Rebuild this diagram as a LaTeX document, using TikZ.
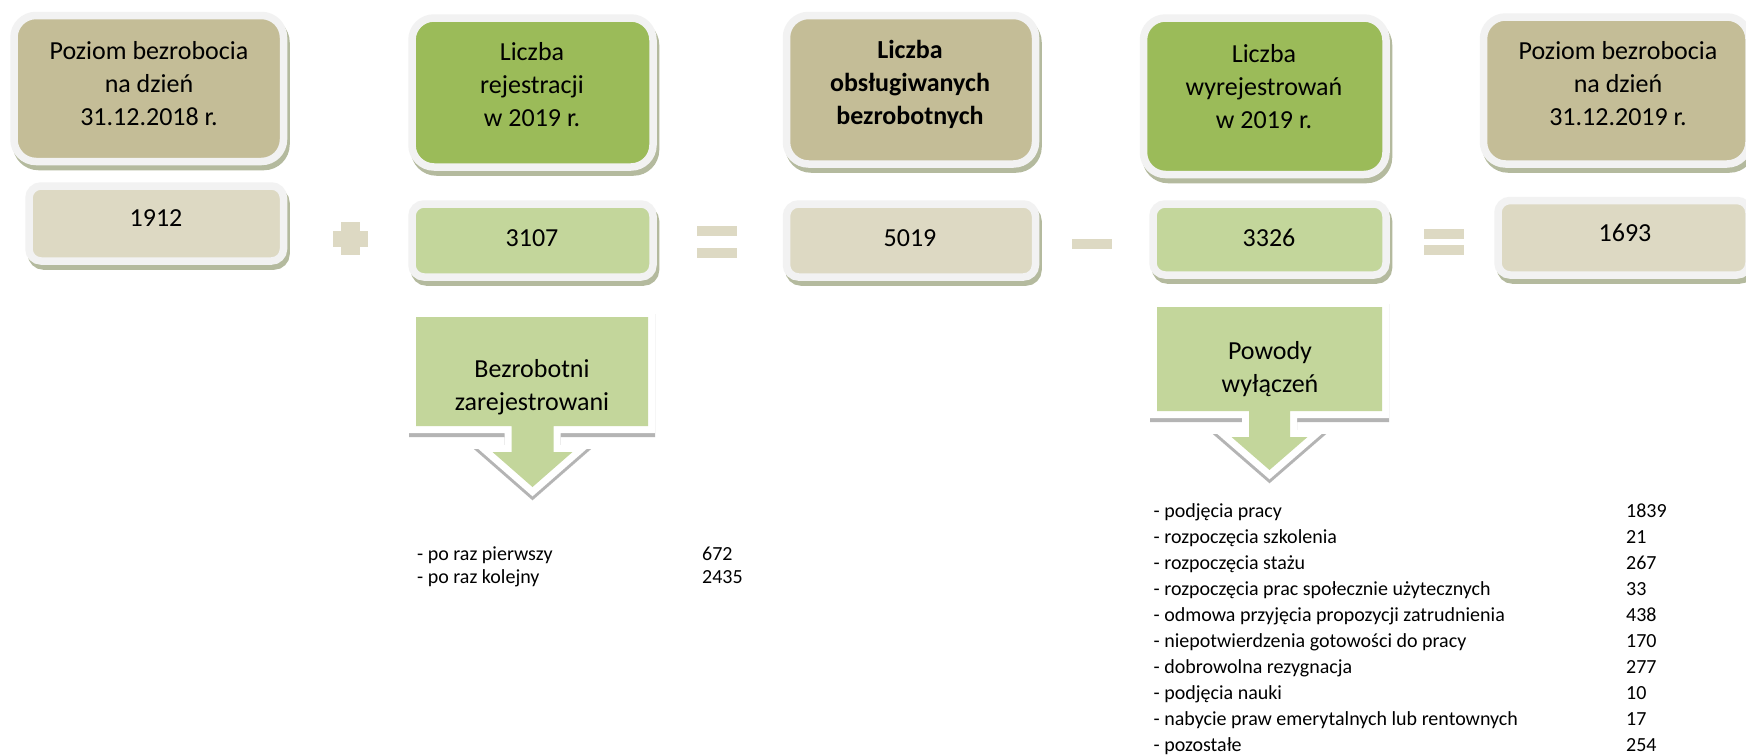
\documentclass[tikz,border=0pt]{standalone}
\usepackage{fontspec}
\setmainfont{Carlito}
\definecolor{tanD}{HTML}{C4BD97}
\definecolor{tanL}{HTML}{DDD9C3}
\definecolor{grnD}{HTML}{9BBB59}
\definecolor{grnL}{HTML}{C3D69B}
\definecolor{bordc}{HTML}{F2F2F2}
\definecolor{shadc}{HTML}{B4BA9E}
\definecolor{ashad}{HTML}{B4B4B4}
\newcommand{\boxfont}{\fontsize{26}{33}\selectfont}
\newcommand{\lstfont}{\fontsize{20}{26}\selectfont}
\tikzset{
  shadowed/.style={preaction={draw=shadc, fill=shadc, line width=7.5pt,
      transform canvas={shift={(2.5pt,-5pt)}}}},
  topbox/.style={shadowed, draw=bordc, line width=7.5pt, rounded corners=22pt,
      inner sep=0pt, minimum width=#1},
  numbox/.style={shadowed, draw=bordc, line width=7.5pt, rounded corners=12pt,
      inner sep=0pt, minimum width=#1},
  txt/.style={align=center, font=\boxfont, inner sep=0pt},
  lst/.style={font=\lstfont, inner sep=0pt, anchor=base west},
  opbar/.style={fill=tanL},
  callout/.style={preaction={draw=ashad, fill=ashad, line width=14pt, line join=miter,
      transform canvas={yshift=-4pt}},
    preaction={draw=white, line width=14pt, line join=miter}, fill=grnL},
}
\begin{document}
\begin{tikzpicture}[x=1pt,y=-1pt]
\useasboundingbox (0,0) rectangle (1746,755);
\fill[white] (0,0) rectangle (1746,755);

% top boxes
\node[topbox=269.5pt, minimum height=146pt, fill=tanD] (b1) at (148.75,88.5) {};
\node[topbox=241pt, minimum height=149pt, fill=grnD] (b2) at (532.5,92.5) {};
\node[topbox=249pt, minimum height=148.5pt, fill=tanD] (b3) at (911,89.75) {};
\node[topbox=242.5pt, minimum height=156.5pt, fill=grnD] (b4) at (1264.75,96.25) {};
\node[topbox=265.5pt, minimum height=147pt, fill=tanD] (b5) at (1616.25,90.5) {};

\node[txt] (t1) at (149,84) {Poziom bezrobocia\\na dzień\\31.12.2018 r.};
\node[txt] (t2) at (532,85) {Liczba\\rejestracji\\w 2019 r.};
\node[txt, font=\boxfont\bfseries] (t3) at (910,84) {Liczba\\obsługiwanych\\bezrobotnych};
\node[txt] (t4) at (1264,87) {Liczba\\wyrejestrowań\\w 2019 r.};
\node[txt] (t5) at (1618,84) {Poziom bezrobocia\\na dzień\\31.12.2019 r.};

% number boxes
\node[numbox=254.5pt, minimum height=75pt, fill=tanL] (n1) at (156.25,223.5) {};
\node[numbox=241pt, minimum height=73pt, fill=grnL] (n2) at (532.5,240.5) {};
\node[numbox=249pt, minimum height=73pt, fill=tanL] (n3) at (911,240.5) {};
\node[numbox=233pt, minimum height=71pt, fill=grnL] (n4) at (1269.5,239.5) {};
\node[numbox=251pt, minimum height=74.5pt, fill=tanL] (n5) at (1623.5,237.75) {};

\node[txt] (v1) at (156,218) {1912};
\node[txt] (v2) at (532,238) {3107};
\node[txt] (v3) at (910,238) {5019};
\node[txt] (v4) at (1269,238) {3326};
\node[txt] (v5) at (1625,233) {1693};

% operators
\fill[opbar] (333.3,230.7) rectangle (368.3,246.7);
\fill[opbar] (341,222.3) rectangle (360,255);
\fill[opbar] (697,226) rectangle (737,236);
\fill[opbar] (697,248.3) rectangle (737,258.3);
\fill[opbar] (1072,238.5) rectangle (1112,249);
\fill[opbar] (1424,229) rectangle (1464,239);
\fill[opbar] (1424,245) rectangle (1464,255);

% down arrow callouts
\path[callout] (416,317) -- (648,317) -- (648,426) -- (553.5,426) -- (553.5,452)
  -- (572.5,452) -- (532.5,487) -- (492.5,452) -- (511.5,452) -- (511.5,426)
  -- (416,426) -- cycle;
\node[txt] (a1) at (532,387.5) {Bezrobotni\\zarejestrowani};

\path[callout] (1157,307) -- (1382,307) -- (1382,411) -- (1290,411) -- (1290,437)
  -- (1307.5,437) -- (1269.5,470) -- (1231.5,437) -- (1249,437) -- (1249,411)
  -- (1157,411) -- cycle;
\node[txt] (a2) at (1270,369) {Powody\\wyłączeń};

% list 1
\node[lst] (p1) at (417,560) {- po raz pierwszy};
\node[lst] (q1) at (702,560) {672};
\node[lst] (p2) at (417,583.5) {- po raz kolejny};
\node[lst] (q2) at (702,583.5) {2435};

% list 2
\foreach \t/\v [count=\i from 0] in {podjęcia pracy/1839, rozpoczęcia szkolenia/21,
  rozpoczęcia stażu/267, rozpoczęcia prac społecznie użytecznych/33,
  odmowa przyjęcia propozycji zatrudnienia/438, niepotwierdzenia gotowości do pracy/170,
  dobrowolna rezygnacja/277, podjęcia nauki/10,
  nabycie praw emerytalnych lub rentownych/17, pozostałe/254} {
  \node[lst] (r\i) at (1153.5,517+26*\i) {- \t};
  \node[lst] (s\i) at (1626,517+26*\i) {\v};
}
\end{tikzpicture}
\end{document}
